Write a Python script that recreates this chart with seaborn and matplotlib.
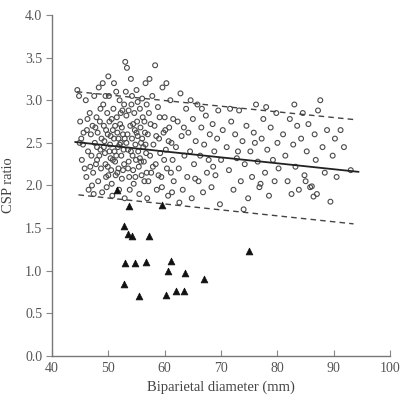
import matplotlib
matplotlib.use("Agg")
import matplotlib.pyplot as plt
import seaborn as sns
import pandas as pd

# ---- data: normal fetuses (open circles) ----
circ_x = [
    44.5, 44.8, 45.0, 45.2, 45.5, 45.3, 45.8, 46.0, 46.2, 46.4, 46.1, 46.5, 46.7, 46.9, 47.0, 47.2, 47.3, 47.5, 47.6, 47.8,
    47.9, 47.4, 48.0, 48.1, 48.2, 48.3, 48.4, 48.5, 48.6, 48.7, 48.8, 48.9, 45.6, 46.8, 47.7, 48.0, 44.9, 46.3, 47.1, 48.6,
    49.0, 49.1, 49.2, 49.3, 49.4, 49.5, 49.6, 49.7, 49.8, 49.9, 50.0, 50.1, 50.2, 50.3, 50.4, 50.5, 50.6, 50.7, 50.8, 50.9,
    51.0, 51.1, 51.2, 51.3, 51.4, 51.5, 51.6, 51.7, 51.8, 51.9, 52.0, 52.1, 52.2, 52.3, 52.4, 52.5, 52.6, 52.7, 52.8, 52.9,
    49.2, 49.6, 50.0, 50.4, 50.8, 51.2, 51.6, 52.0, 52.4, 52.8, 49.5, 50.2, 51.0, 51.8, 52.6, 49.9, 50.6, 51.4, 52.2, 52.9,
    53.0, 53.3, 53.1, 53.2, 53.4, 53.5, 53.6, 53.7, 53.8, 53.9, 54.0, 54.1, 54.2, 54.3, 54.4, 54.5, 54.6, 54.7, 54.8, 54.9,
    55.0, 55.1, 55.2, 55.3, 55.4, 55.5, 55.6, 55.7, 55.8, 55.9, 56.0, 56.1, 56.2, 56.3, 56.4, 56.5, 56.6, 56.7, 56.8, 56.9,
    53.2, 53.6, 54.0, 54.4, 54.8, 55.2, 55.6, 56.0, 56.4, 56.8, 53.5, 54.2, 55.0, 55.8, 56.6,
    57.0, 57.2, 57.4, 57.6, 57.8, 58.0, 58.2, 58.3, 58.4, 58.6, 58.8, 59.0, 59.2, 59.4, 59.6, 59.8, 60.0, 60.2, 60.4, 60.6,
    60.8, 61.0, 61.2, 61.4, 61.6, 57.1, 57.5, 57.9, 58.5, 59.1, 59.5, 59.9, 60.3, 60.7, 61.1, 61.5, 57.3, 58.9, 60.1, 61.3,
    62.0, 62.3, 62.5, 62.8, 63.0, 63.2, 63.5, 63.8, 64.0, 64.2, 64.5, 64.8, 65.0, 65.2, 65.5, 65.8, 66.0, 66.3, 66.5, 66.8,
    67.0, 67.3, 67.5, 67.8, 68.0, 68.3, 68.5, 68.8, 69.0, 69.3, 69.5, 69.8, 70.0, 70.3, 62.6, 64.6, 66.6, 68.6, 63.4, 65.4,
    71.0, 71.4, 71.8, 72.2, 72.5, 72.8, 73.2, 73.5, 73.8, 74.2, 74.5, 74.8, 75.2, 75.5, 75.8, 76.2, 76.5, 76.8, 77.2, 77.5,
    77.8, 78.2, 78.5, 78.8, 79.2, 79.5, 79.8, 80.0, 71.6, 74.0, 76.0, 78.0, 80.2, 73.0, 77.0,
    81.0, 81.4, 81.8, 82.2, 82.5, 82.8, 83.2, 83.5, 83.8, 84.2, 84.5, 84.8, 85.2, 85.5, 85.8, 86.1, 86.4, 86.6, 86.8, 87.2,
    87.6, 88.0, 88.4, 88.8, 89.4, 89.8, 90.2, 91.2, 91.8, 93.0, 85.0, 87.0, 83.0, 90.5,
]
circ_y = [
    3.12, 3.05, 2.75, 2.55, 2.48, 2.30, 2.20, 3.00, 2.65, 2.40, 2.10, 1.95, 2.85, 2.60, 2.35, 2.70, 2.15, 3.05, 2.50, 2.25,
    2.80, 1.90, 2.45, 2.62, 2.05, 3.15, 2.35, 2.75, 2.90, 2.20, 2.55, 1.92, 2.62, 2.22, 2.68, 2.30, 2.50, 2.78, 2.00, 2.42,
    3.20, 2.95, 2.70, 2.52, 2.38, 2.25, 2.10, 1.98, 2.85, 2.60, 3.28, 3.05, 2.75, 2.48, 2.32, 2.18, 2.02, 1.88, 2.65, 2.90,
    2.55, 2.40, 2.28, 2.12, 3.10, 2.80, 2.62, 2.45, 2.20, 1.95, 3.00, 2.72, 2.50, 2.35, 2.08, 2.88, 2.60, 2.42, 2.25, 1.85,
    2.45, 2.65, 2.12, 2.58, 2.30, 2.70, 2.15, 2.48, 2.68, 2.95, 3.05, 2.40, 3.20, 2.55, 2.18, 2.22, 2.78, 2.35, 2.85, 2.55,
    3.45, 3.38, 3.10, 2.82, 2.60, 2.42, 2.28, 2.10, 1.95, 2.70, 3.25, 2.95, 2.55, 2.35, 2.18, 2.02, 2.85, 2.65, 2.48, 2.30,
    3.12, 2.75, 2.58, 2.40, 2.22, 1.90, 2.90, 2.68, 2.50, 2.12, 3.02, 2.80, 2.45, 2.28, 2.05, 2.62, 3.20, 2.38, 2.15, 1.85,
    2.50, 2.88, 2.40, 2.72, 2.10, 2.98, 2.32, 2.55, 2.75, 2.95, 2.20, 3.05, 2.62, 2.28, 2.48,
    2.60, 2.85, 2.35, 2.15, 3.05, 2.48, 2.70, 3.41, 2.25, 1.95, 2.92, 2.55, 2.38, 2.10, 3.15, 2.62, 2.80, 2.42, 2.20, 1.88,
    2.68, 3.00, 2.50, 2.30, 2.05, 2.05, 2.72, 2.22, 2.58, 2.80, 1.98, 2.30, 3.20, 2.52, 2.15, 2.78, 3.25, 2.12, 2.65, 1.92,
    2.45, 2.75, 2.20, 3.08, 2.58, 1.95, 2.35, 2.90, 2.10, 2.62, 2.40, 1.85, 2.78, 2.25, 2.52, 2.95, 2.05, 2.35, 2.68, 1.92,
    2.48, 2.82, 2.15, 2.30, 2.60, 1.98, 2.72, 2.40, 2.12, 2.55, 2.88, 1.78, 2.30, 2.65, 1.80, 3.00, 2.90, 2.22, 2.68, 2.08,
    2.45, 2.18, 2.75, 1.95, 2.60, 2.32, 2.88, 2.05, 2.52, 2.25, 2.70, 1.85, 2.40, 2.10, 2.62, 2.95, 2.28, 1.98, 2.55, 2.78,
    2.15, 2.42, 1.88, 2.68, 2.30, 2.05, 2.85, 2.50, 2.90, 1.72, 2.50, 2.92, 2.20, 2.40, 2.02,
    2.60, 2.35, 2.05, 2.78, 1.90, 2.48, 2.22, 2.70, 1.95, 2.55, 2.85, 2.12, 2.40, 2.72, 1.98, 1.99, 1.87, 2.60, 2.30, 2.88,
    3.00, 2.45, 2.15, 2.65, 1.81, 2.35, 2.55, 2.65, 2.45, 2.18, 2.05, 1.90, 2.95, 2.10,
]

# ---- data: affected fetuses (filled triangles) ----
tri_x = [52.8, 53.5, 54.2, 57.3, 53.0, 54.7, 56.7, 61.2, 60.5, 63.6, 66.9, 52.8, 55.4, 60.2, 62.0, 63.4, 74.9, 53.6, 59.5, 51.5]
tri_y = [1.53, 1.43, 1.41, 1.41, 1.09, 1.09, 1.10, 1.12, 1.00, 0.97, 0.90, 0.85, 0.70, 0.72, 0.76, 0.76, 1.23, 1.76, 1.77, 1.95]

# ---- regression line and limits ----
fit_x = [44.1, 94.4]
fit_y = [2.51, 2.16]
upper_x = [44.4, 94.1]
upper_y = [3.10, 2.77]
lower_x = [44.7, 93.5]
lower_y = [1.89, 1.55]

x_ticks = [40, 50, 60, 70, 80, 90, 100]
y_ticks = [0.0, 0.5, 1.0, 1.5, 2.0, 2.5, 3.0, 3.5, 4.0]

sns.set_style("ticks")
plt.rcParams["font.family"] = ["Liberation Serif", "DejaVu Serif"]

fig = plt.figure(figsize=(4.06, 4.05), dpi=100)
ax = fig.add_axes([0.128, 0.121, 0.833, 0.842])

circ = pd.DataFrame({"x": circ_x, "y": circ_y})
tri = pd.DataFrame({"x": tri_x, "y": tri_y})

sns.scatterplot(data=circ, x="x", y="y", ax=ax, marker="o", s=12,
                facecolor="none", edgecolor="#4a4a4a", linewidth=0.8, zorder=3)
sns.scatterplot(data=tri, x="x", y="y", ax=ax, marker="^", s=24,
                color="#111111", edgecolor="#111111", linewidth=0.5, zorder=4)

lines = pd.DataFrame({"x": fit_x, "y": fit_y})
sns.lineplot(data=lines, x="x", y="y", ax=ax, color="#222222", linewidth=1.3, zorder=5)
up = pd.DataFrame({"x": upper_x, "y": upper_y})
sns.lineplot(data=up, x="x", y="y", ax=ax, color="#444444", linewidth=1.0,
             linestyle=(0, (4, 3)), zorder=5)
lo = pd.DataFrame({"x": lower_x, "y": lower_y})
sns.lineplot(data=lo, x="x", y="y", ax=ax, color="#444444", linewidth=1.0,
             linestyle=(0, (4, 3)), zorder=5)

ax.set_xlim(40, 100)
ax.set_ylim(0, 4.0)
ax.set_xticks(x_ticks)
ax.set_yticks(y_ticks)
ax.set_xticklabels([str(t) for t in x_ticks])
ax.set_yticklabels([f"{t:.1f}" for t in y_ticks])
ax.xaxis.set_tick_params(direction="in", length=4, width=0.8, color="#888888",
                         labelsize=10, labelcolor="#555555", pad=4)
ax.yaxis.set_tick_params(direction="out", length=4, width=0.8, color="#888888",
                         labelsize=10, labelcolor="#555555", pad=3)
for s in ["top", "right"]:
    ax.spines[s].set_visible(False)
for s in ["left", "bottom"]:
    ax.spines[s].set_color("#777777")
    ax.spines[s].set_linewidth(1.0)

ax.set_xlabel("Biparietal diameter (mm)", fontsize=10.5, color="#444444", labelpad=4)
ax.set_ylabel("CSP ratio", fontsize=10.5, color="#444444", labelpad=7)

fig.savefig("out.png", dpi=100)
